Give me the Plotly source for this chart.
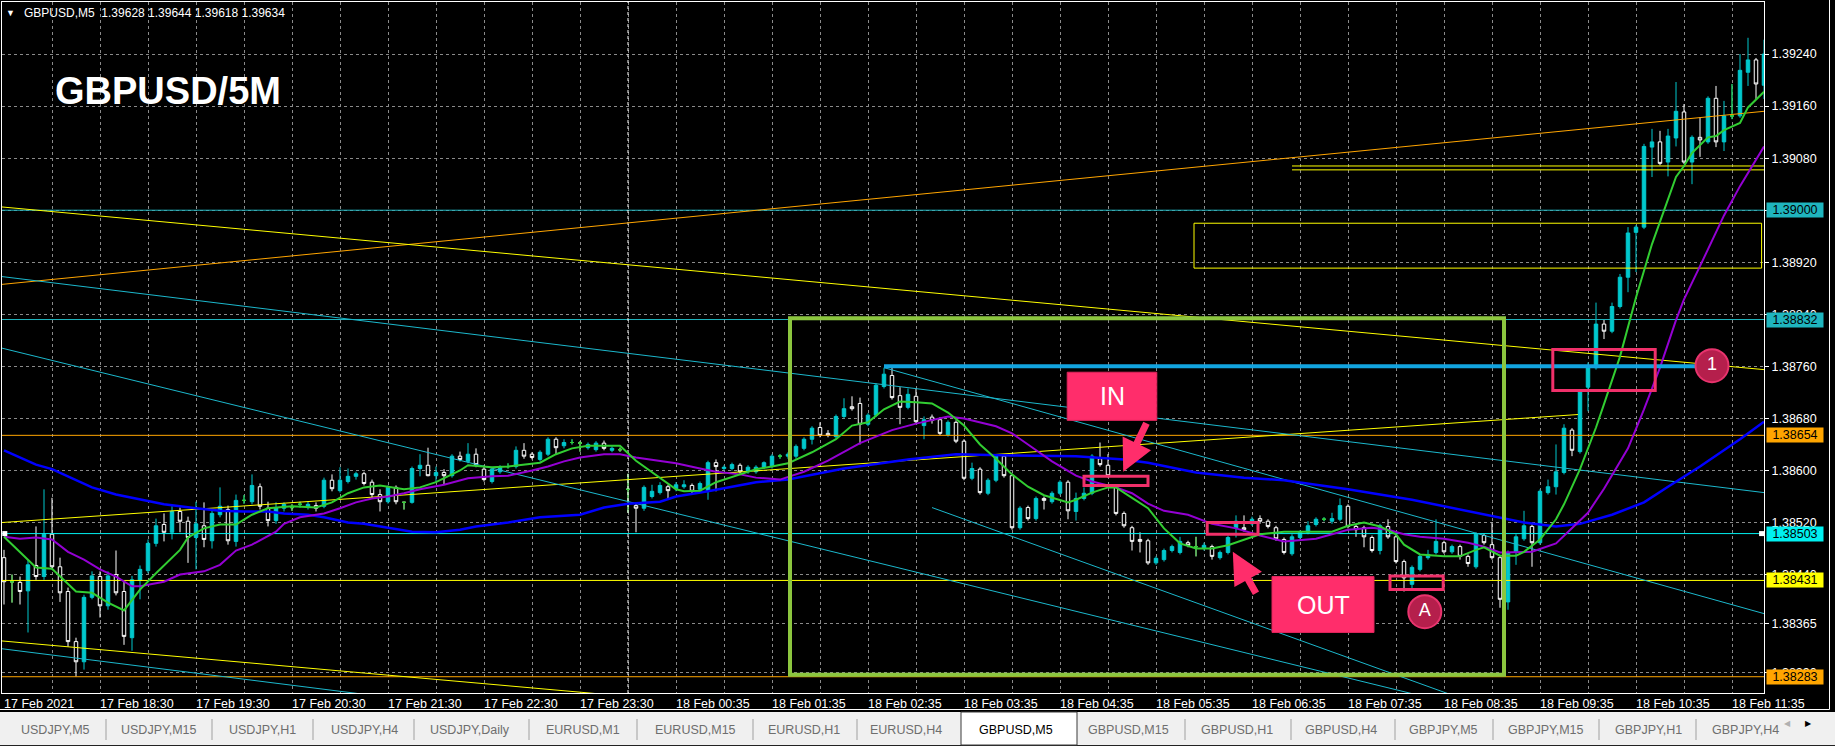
import plotly.graph_objects as go

# ---------------- data ----------------
bar_index = list(range(221))

opens = [
    1.38466,1.38429,1.38428,1.38415,1.38454,1.38437,1.38502,1.38452,1.38414,1.38337,
    1.38306,1.38405,1.38437,1.38392,1.38440,1.38414,1.38343,1.38431,1.38446,1.38488,
    1.38517,1.38505,1.38537,1.38522,1.38497,1.38515,1.38492,1.38532,1.38540,1.38491,
    1.38554,1.38552,1.38575,1.38542,1.38523,1.38542,1.38543,1.38548,1.38543,1.38546,
    1.38545,1.38585,1.38569,1.38583,1.38591,1.38595,1.38582,1.38563,1.38552,1.38574,
    1.38551,1.38551,1.38603,1.38608,1.38592,1.38597,1.38592,1.38622,1.38614,1.38625,
    1.38602,1.38583,1.38598,1.38606,1.38606,1.38631,1.38625,1.38617,1.38625,1.38648,
    1.38638,1.38643,1.38642,1.38635,1.38632,1.38642,1.38631,1.38632,1.38571,1.38546,
    1.38542,1.38560,1.38566,1.38575,1.38572,1.38575,1.38577,1.38571,1.38568,1.38612,
    1.38603,1.38603,1.38608,1.38598,1.38598,1.38605,1.38606,1.38622,1.38622,1.38622,
    1.38634,1.38648,1.38666,1.38657,1.38652,1.38683,1.38698,1.38703,1.38671,1.38685,
    1.38729,1.38746,1.38715,1.38697,1.38714,1.38669,1.38682,1.38678,1.38655,1.38674,
    1.38645,1.38588,1.38602,1.38565,1.38585,1.38622,1.38592,1.38512,1.38543,1.38526,
    1.38557,1.38552,1.38565,1.38582,1.38537,1.38557,1.38565,1.38618,1.38608,1.38575,
    1.38534,1.38512,1.38494,1.38492,1.38458,1.38463,1.38477,1.38474,1.38489,1.38483,
    1.38480,1.38483,1.38466,1.38474,1.38511,1.38512,1.38518,1.38526,1.38522,1.38512,
    1.38494,1.38472,1.38497,1.38505,1.38517,1.38525,1.38522,1.38525,1.38545,1.38514,
    1.38512,1.38497,1.38477,1.38514,1.38498,1.38460,1.38425,1.38448,1.38466,1.38474,
    1.38489,1.38475,1.38483,1.38468,1.38452,1.38500,1.38486,1.38466,1.38398,1.38475,
    1.38495,1.38514,1.38489,1.38566,1.38575,1.38597,1.38662,1.38629,1.38728,1.38758,
    1.38825,1.38814,1.38852,1.38897,1.38966,1.38974,1.39097,1.39105,1.39074,1.39111,
    1.39151,1.39074,1.39112,1.39105,1.39172,1.39105,1.39145,1.39145,1.39212,1.39231,
    1.39192]
highs = [
    1.38478,1.38440,1.38437,1.38463,1.38514,1.38571,1.38558,1.38466,1.38420,1.38343,
    1.38409,1.38445,1.38445,1.38445,1.38477,1.38429,1.38438,1.38454,1.38494,1.38526,
    1.38534,1.38545,1.38543,1.38529,1.38552,1.38551,1.38540,1.38574,1.38546,1.38563,
    1.38562,1.38594,1.38580,1.38552,1.38551,1.38551,1.38548,1.38552,1.38552,1.38551,
    1.38589,1.38594,1.38605,1.38603,1.38598,1.38598,1.38586,1.38571,1.38577,1.38577,
    1.38552,1.38606,1.38625,1.38635,1.38606,1.38602,1.38625,1.38629,1.38642,1.38634,
    1.38608,1.38605,1.38608,1.38611,1.38637,1.38642,1.38628,1.38631,1.38651,1.38651,
    1.38648,1.38648,1.38645,1.38643,1.38645,1.38646,1.38637,1.38635,1.38595,1.38549,
    1.38577,1.38578,1.38582,1.38578,1.38582,1.38585,1.38580,1.38583,1.38615,1.38617,
    1.38608,1.38612,1.38611,1.38608,1.38608,1.38614,1.38625,1.38625,1.38628,1.38640,
    1.38651,1.38668,1.38674,1.38662,1.38686,1.38711,1.38714,1.38712,1.38688,1.38734,
    1.38758,1.38758,1.38728,1.38726,1.38726,1.38683,1.38686,1.38682,1.38677,1.38677,
    1.38648,1.38612,1.38605,1.38588,1.38625,1.38625,1.38595,1.38545,1.38546,1.38560,
    1.38560,1.38568,1.38585,1.38585,1.38566,1.38574,1.38625,1.38643,1.38625,1.38578,
    1.38537,1.38515,1.38505,1.38495,1.38468,1.38480,1.38486,1.38498,1.38492,1.38498,
    1.38489,1.38486,1.38477,1.38500,1.38531,1.38531,1.38529,1.38531,1.38525,1.38515,
    1.38497,1.38502,1.38508,1.38522,1.38528,1.38528,1.38535,1.38557,1.38548,1.38517,
    1.38515,1.38500,1.38518,1.38525,1.38502,1.38463,1.38454,1.38471,1.38478,1.38525,
    1.38492,1.38486,1.38486,1.38471,1.38505,1.38503,1.38520,1.38469,1.38477,1.38502,
    1.38538,1.38517,1.38571,1.38586,1.38640,1.38671,1.38665,1.38725,1.38766,1.38858,
    1.38832,1.38858,1.38902,1.38974,1.38977,1.39102,1.39125,1.39122,1.39125,1.39197,
    1.39163,1.39115,1.39143,1.39175,1.39191,1.39168,1.39194,1.39240,1.39265,1.39234,
    1.39262]
lows = [
    1.38394,1.38397,1.38394,1.38351,1.38432,1.38432,1.38448,1.38398,1.38329,1.38283,
    1.38294,1.38402,1.38374,1.38386,1.38408,1.38332,1.38323,1.38402,1.38442,1.38483,
    1.38491,1.38494,1.38505,1.38458,1.38448,1.38482,1.38480,1.38528,1.38486,1.38483,
    1.38549,1.38548,1.38540,1.38514,1.38518,1.38537,1.38538,1.38543,1.38540,1.38537,
    1.38542,1.38568,1.38566,1.38580,1.38586,1.38577,1.38558,1.38537,1.38549,1.38548,
    1.38540,1.38549,1.38591,1.38591,1.38582,1.38578,1.38589,1.38614,1.38611,1.38605,
    1.38583,1.38580,1.38595,1.38603,1.38603,1.38618,1.38617,1.38614,1.38622,1.38625,
    1.38634,1.38640,1.38629,1.38632,1.38629,1.38631,1.38628,1.38629,1.38535,1.38505,
    1.38538,1.38557,1.38563,1.38555,1.38568,1.38572,1.38565,1.38568,1.38555,1.38568,
    1.38600,1.38600,1.38595,1.38595,1.38595,1.38602,1.38603,1.38618,1.38618,1.38618,
    1.38631,1.38640,1.38651,1.38651,1.38649,1.38680,1.38692,1.38640,1.38668,1.38682,
    1.38726,1.38709,1.38671,1.38694,1.38672,1.38648,1.38672,1.38654,1.38652,1.38642,
    1.38585,1.38585,1.38563,1.38562,1.38582,1.38589,1.38509,1.38509,1.38523,1.38523,
    1.38540,1.38549,1.38562,1.38525,1.38523,1.38554,1.38562,1.38606,1.38589,1.38531,
    1.38512,1.38477,1.38474,1.38455,1.38455,1.38460,1.38474,1.38471,1.38482,1.38468,
    1.38477,1.38463,1.38463,1.38471,1.38497,1.38506,1.38515,1.38518,1.38511,1.38492,
    1.38471,1.38469,1.38494,1.38502,1.38514,1.38522,1.38518,1.38522,1.38511,1.38498,
    1.38482,1.38474,1.38471,1.38495,1.38457,1.38414,1.38418,1.38445,1.38463,1.38471,
    1.38472,1.38472,1.38463,1.38452,1.38449,1.38486,1.38463,1.38389,1.38386,1.38455,
    1.38492,1.38452,1.38486,1.38563,1.38563,1.38594,1.38622,1.38626,1.38691,1.38755,
    1.38802,1.38811,1.38849,1.38874,1.38905,1.38971,1.39051,1.39069,1.39052,1.39098,
    1.39071,1.39040,1.39082,1.39102,1.39097,1.39091,1.39140,1.39142,1.39191,1.39171,
    1.39171]
closes = [
    1.38429,1.38429,1.38414,1.38455,1.38437,1.38502,1.38452,1.38412,1.38337,1.38306,
    1.38405,1.38438,1.38392,1.38438,1.38412,1.38345,1.38432,1.38448,1.38488,1.38515,
    1.38505,1.38537,1.38522,1.38497,1.38518,1.38494,1.38534,1.38545,1.38492,1.38554,
    1.38554,1.38577,1.38545,1.38523,1.38543,1.38548,1.38543,1.38548,1.38548,1.38542,
    1.38585,1.38572,1.38585,1.38591,1.38595,1.38580,1.38563,1.38552,1.38574,1.38552,
    1.38551,1.38603,1.38608,1.38592,1.38597,1.38592,1.38622,1.38617,1.38625,1.38609,
    1.38586,1.38602,1.38605,1.38606,1.38631,1.38622,1.38620,1.38628,1.38648,1.38635,
    1.38643,1.38643,1.38642,1.38640,1.38642,1.38634,1.38634,1.38632,1.38571,1.38542,
    1.38574,1.38568,1.38577,1.38569,1.38578,1.38578,1.38568,1.38580,1.38612,1.38606,
    1.38605,1.38609,1.38598,1.38605,1.38605,1.38612,1.38622,1.38622,1.38625,1.38637,
    1.38648,1.38665,1.38654,1.38654,1.38683,1.38695,1.38695,1.38671,1.38685,1.38731,
    1.38748,1.38712,1.38697,1.38717,1.38675,1.38678,1.38677,1.38657,1.38674,1.38645,
    1.38588,1.38603,1.38566,1.38585,1.38622,1.38592,1.38512,1.38542,1.38526,1.38557,
    1.38554,1.38565,1.38582,1.38538,1.38557,1.38565,1.38622,1.38609,1.38592,1.38534,
    1.38515,1.38491,1.38491,1.38458,1.38465,1.38477,1.38483,1.38491,1.38485,1.38483,
    1.38485,1.38468,1.38474,1.38497,1.38522,1.38509,1.38525,1.38522,1.38514,1.38495,
    1.38474,1.38498,1.38505,1.38515,1.38525,1.38525,1.38526,1.38546,1.38514,1.38509,
    1.38498,1.38477,1.38515,1.38498,1.38460,1.38435,1.38451,1.38468,1.38471,1.38491,
    1.38475,1.38483,1.38468,1.38457,1.38502,1.38489,1.38466,1.38402,1.38474,1.38498,
    1.38515,1.38489,1.38568,1.38575,1.38598,1.38665,1.38631,1.38722,1.38758,1.38825,
    1.38814,1.38852,1.38897,1.38965,1.38974,1.39098,1.39105,1.39072,1.39114,1.39152,
    1.39074,1.39112,1.39108,1.39172,1.39105,1.39145,1.39145,1.39215,1.39231,1.39194,
    1.39240]

ma_fast_x = [0,4,6,8,9,11,13,15,17,19,22,23,25,27,29,31,33,36,39,41,43,45,47,50,52,54,57,58,61,63,
             65,67,69,71,73,77,79,82,84,85,87,89,92,94,96,98,101,104,106,108,110,112,114,116,118,
             120,122,124,126,128,130,133,134,136,138,139,141,143,145,147,149,151,153,155,157,160,
             166,168,170,172,174,175,177,180,182,184,185,187,189,190,192,194,195,197,199,200,202,
             204,206,209,210,211,213,214,215,217,218,220]
ma_fast = [1.38498,1.38451,1.38449,1.38425,1.38414,1.38412,1.38397,1.38385,1.38417,1.38442,
           1.38478,1.38497,1.38511,1.38517,1.38517,1.38532,1.38542,1.38545,1.38543,1.38551,
           1.38565,1.38574,1.38577,1.38571,1.38574,1.38582,1.38600,1.38608,1.38605,1.38606,
           1.38609,1.38612,1.38625,1.38634,1.38638,1.38638,1.38615,1.38588,1.38571,1.38568,
           1.38569,1.38582,1.38594,1.38602,1.38606,1.38611,1.38628,1.38648,1.38669,1.38674,
           1.38694,1.38706,1.38705,1.38703,1.38689,1.38669,1.38640,1.38618,1.38594,1.38575,
           1.38562,1.38551,1.38555,1.38566,1.38574,1.38574,1.38558,1.38542,1.38511,1.38488,
           1.38480,1.38480,1.38485,1.38494,1.38502,1.38506,1.38506,1.38515,1.38520,1.38514,
           1.38502,1.38486,1.38471,1.38468,1.38468,1.38478,1.38482,1.38469,1.38469,1.38475,
           1.38494,1.38525,1.38548,1.38602,1.38666,1.38702,1.38775,1.38866,1.38948,1.39051,
           1.39068,1.39088,1.39112,1.39114,1.39123,1.39134,1.39158,1.39182]

ma_mid_x = [0,2,4,6,8,10,12,14,16,17,20,22,25,27,29,31,34,35,37,40,42,44,46,48,50,52,55,58,61,63,
            66,68,70,72,75,77,79,82,84,87,89,92,94,97,100,103,107,111,114,118,120,124,126,128,131,
            134,136,139,141,143,145,148,151,154,157,160,164,168,171,173,175,177,180,183,185,187,
            189,191,194,196,198,200,203,205,207,209,210,212,215,217,219,220]
ma_mid = [1.38498,1.38495,1.38497,1.38494,1.38475,1.38463,1.38448,1.38437,1.38422,1.38422,
          1.38429,1.38440,1.38445,1.38455,1.38477,1.38486,1.38506,1.38518,1.38528,1.38534,
          1.38542,1.38551,1.38557,1.38560,1.38565,1.38571,1.38578,1.38588,1.38591,1.38592,
          1.38600,1.38606,1.38614,1.38620,1.38625,1.38625,1.38620,1.38614,1.38611,1.38603,
          1.38598,1.38594,1.38589,1.38586,1.38598,1.38615,1.38642,1.38662,1.38672,1.38683,
          1.38680,1.38668,1.38657,1.38640,1.38614,1.38592,1.38583,1.38574,1.38565,1.38549,
          1.38538,1.38532,1.38518,1.38511,1.38500,1.38491,1.38495,1.38509,1.38512,1.38509,
          1.38502,1.38498,1.38495,1.38489,1.38483,1.38474,1.38474,1.38475,1.38488,1.38512,
          1.38535,1.38572,1.38634,1.38694,1.38758,1.38831,1.38863,1.38914,1.38992,1.39037,
          1.39078,1.39098]

ma_slow_x = [0,4,6,9,11,14,17,20,24,27,30,33,35,38,40,43,45,48,51,54,57,59,63,67,72,75,78,82,84,88,
             91,94,98,105,113,119,126,134,140,143,149,155,160,168,176,182,187,190,194,197,201,205,
             208,212,217,220]
ma_slow = [1.38631,1.38609,1.38602,1.38585,1.38574,1.38563,1.38555,1.38548,1.38542,1.38538,
           1.38537,1.38537,1.38534,1.38532,1.38528,1.38520,1.38518,1.38512,1.38506,1.38505,
           1.38509,1.38514,1.38520,1.38528,1.38532,1.38543,1.38549,1.38552,1.38560,1.38568,
           1.38575,1.38582,1.38586,1.38603,1.38617,1.38625,1.38623,1.38622,1.38617,1.38612,
           1.38597,1.38589,1.38585,1.38571,1.38555,1.38540,1.38528,1.38520,1.38514,1.38518,
           1.38532,1.38551,1.38575,1.38606,1.38648,1.38675]

time_tick_bars = [0, 12, 24, 36, 48, 60, 72, 84, 96, 108, 120, 132, 144, 156, 168, 180, 192, 204, 216]
time_tick_text = ["17 Feb 2021", "17 Feb 18:30", "17 Feb 19:30", "17 Feb 20:30", "17 Feb 21:30",
                  "17 Feb 22:30", "17 Feb 23:30", "18 Feb 00:35", "18 Feb 01:35", "18 Feb 02:35",
                  "18 Feb 03:35", "18 Feb 04:35", "18 Feb 05:35", "18 Feb 06:35", "18 Feb 07:35",
                  "18 Feb 08:35", "18 Feb 09:35", "18 Feb 10:35", "18 Feb 11:35"]
grid_bars = list(range(6, 221, 6))
separator_bar = [78]

price_ticks = [1.39240, 1.39160, 1.39080, 1.39000, 1.38920, 1.38840, 1.38760,
               1.38680, 1.38600, 1.38520, 1.38440, 1.38365, 1.38290]
price_tick_text = ["%.5f" % p for p in price_ticks]

level_prices = [1.39000, 1.38832, 1.38654, 1.38503, 1.38431, 1.38283]
level_colors = ["#1fb5be", "#1fb5be", "#ffa500", "#00f0f0", "#ffff00", "#ffa500"]

# trend lines: [x0, x1], [y0, y1]
orange_trend_x, orange_trend_y = [-0.25, 220], [1.38886, 1.39152]
yellow_trend_top_x, yellow_trend_top_y = [-0.25, 220], [1.39005, 1.38755]
yellow_trend_rise_x, yellow_trend_rise_y = [-0.25, 196.75], [1.38520, 1.38686]
yellow_trend_low_x, yellow_trend_low_y = [-0.25, 75], [1.38338, 1.38256]
cyan_trend_a_x, cyan_trend_a_y = [-0.25, 220], [1.38898, 1.38566]
cyan_trend_b_x, cyan_trend_b_y = [-0.25, 176], [1.38788, 1.38257]
cyan_trend_c_x, cyan_trend_c_y = [110, 220], [1.38758, 1.38380]
cyan_trend_d_x, cyan_trend_d_y = [116, 180.5], [1.38543, 1.38257]
cyan_trend_low_x, cyan_trend_low_y = [-0.25, 45], [1.38326, 1.38256]
blue_level_x, blue_level_y = [110, 213.5], [1.38760, 1.38760]
yellow_pair_x = [161, 220]
yellow_pair_prices = [1.39068, 1.39062]
yellow_zone_x = [148.75, 219.7]
yellow_zone_y = [1.38911, 1.38980]
green_box_x = [98.25, 187.5]
green_box_y = [1.38286, 1.38834]

in_box_x, in_box_y = [132.9, 144.1], [1.38677, 1.38751]
out_box_x, out_box_y = [158.5, 171.25], [1.38351, 1.38437]
mark_rects_x = [[135, 143], [150.4, 156.75], [173.25, 179.9], [193.6, 206.4]]
mark_rects_y = [[1.38577, 1.38591], [1.38502, 1.38520], [1.38417, 1.38438], [1.38723, 1.38786]]
circle_x = [177.6, 213.5]
circle_y = [1.38383, 1.38761]
circle_text = ["A", "1"]
in_arrow_head = (139.9, 1.38598)
out_arrow_head = (153.6, 1.38475)

tab_labels = ["USDJPY,M5", "USDJPY,M15", "USDJPY,H1", "USDJPY,H4", "USDJPY,Daily", "EURUSD,M1",
              "EURUSD,M15", "EURUSD,H1", "EURUSD,H4", "GBPUSD,M5", "GBPUSD,M15", "GBPUSD,H1",
              "GBPUSD,H4", "GBPJPY,M5", "GBPJPY,M15", "GBPJPY,H1", "GBPJPY,H4"]
tab_centers = [55, 159, 262, 364, 470, 583, 695, 804, 906, 1016, 1128, 1237, 1341, 1443, 1546, 1648, 1745]
tab_separators = [106, 212, 313, 414, 529, 637, 753, 857, 1185, 1291, 1395, 1493, 1599, 1696]
selected_tab = 9

# ---------------- styling ----------------
W, H = 1835, 746
ML, MR, MT, MB = 2, 71, 2, 53
PX0, PX1, PY0, PY1 = ML, W - MR, MT, H - MB
FONT = "Liberation Sans, Arial, sans-serif"
TEAL = "#00c8cd"
CYAN_TL = "#1cb8cc"
PINK = "#ff2d6b"
GRID = "#8a8a8a"


def pxx(X):
    return (X - PX0) / (PX1 - PX0)


def pxy(Y):
    return (PY1 - Y) / (PY1 - PY0)


fig = go.Figure()

XR = [-0.25, 220]

# horizontal levels
for p, c in zip(level_prices, level_colors):
    fig.add_trace(go.Scatter(x=XR, y=[p, p], mode="lines", line=dict(color=c, width=1),
                             hoverinfo="skip", showlegend=False))

# separator
fig.add_trace(go.Scatter(x=separator_bar * 2, y=[1.38258, 1.39320], mode="lines",
                         line=dict(color="white", width=1, dash="3px,3px"), hoverinfo="skip"))

# trend lines
for xs, ys, c in [
    (orange_trend_x, orange_trend_y, "#ffa500"),
    (yellow_trend_top_x, yellow_trend_top_y, "#ffff00"),
    (yellow_trend_rise_x, yellow_trend_rise_y, "#ffff00"),
    (yellow_trend_low_x, yellow_trend_low_y, "#ffff00"),
    (cyan_trend_a_x, cyan_trend_a_y, CYAN_TL),
    (cyan_trend_b_x, cyan_trend_b_y, CYAN_TL),
    (cyan_trend_c_x, cyan_trend_c_y, CYAN_TL),
    (cyan_trend_d_x, cyan_trend_d_y, CYAN_TL),
    (cyan_trend_low_x, cyan_trend_low_y, CYAN_TL),
]:
    fig.add_trace(go.Scatter(x=xs, y=ys, mode="lines", line=dict(color=c, width=1), hoverinfo="skip"))

for p in yellow_pair_prices:
    fig.add_trace(go.Scatter(x=yellow_pair_x, y=[p, p], mode="lines",
                             line=dict(color="#ffff00", width=1), hoverinfo="skip"))

# yellow zone rectangle
fig.add_trace(go.Scatter(x=[yellow_zone_x[0], yellow_zone_x[1], yellow_zone_x[1], yellow_zone_x[0], yellow_zone_x[0]],
                         y=[yellow_zone_y[0], yellow_zone_y[0], yellow_zone_y[1], yellow_zone_y[1], yellow_zone_y[0]],
                         mode="lines", line=dict(color="#ffff00", width=1), hoverinfo="skip"))

# moving averages
fig.add_trace(go.Scatter(x=ma_slow_x, y=ma_slow, mode="lines", line=dict(color="#0000ff", width=2.5), hoverinfo="skip"))
fig.add_trace(go.Scatter(x=ma_mid_x, y=ma_mid, mode="lines", line=dict(color="#9400d3", width=2), hoverinfo="skip"))

# candles
fig.add_trace(go.Candlestick(
    x=bar_index, open=opens, high=highs, low=lows, close=closes,
    increasing=dict(line=dict(color=TEAL, width=1), fillcolor=TEAL),
    decreasing=dict(line=dict(color="white", width=1), fillcolor="black"),
    whiskerwidth=0, hoverinfo="skip", showlegend=False))
doji = [i for i in bar_index if opens[i] == closes[i]]
fig.add_trace(go.Candlestick(
    x=doji, open=[opens[i] for i in doji], high=[highs[i] for i in doji],
    low=[lows[i] for i in doji], close=[closes[i] for i in doji],
    increasing=dict(line=dict(color="#32cd32", width=1), fillcolor="#32cd32"),
    decreasing=dict(line=dict(color="#32cd32", width=1), fillcolor="#32cd32"),
    whiskerwidth=0, hoverinfo="skip", showlegend=False))

fig.add_trace(go.Scatter(x=ma_fast_x, y=ma_fast, mode="lines", line=dict(color="#32cd32", width=2), hoverinfo="skip"))

# blue level line
fig.add_trace(go.Scatter(x=blue_level_x, y=blue_level_y, mode="lines",
                         line=dict(color="#12a4e0", width=4), hoverinfo="skip"))

# small selection squares on the cyan level
fig.add_trace(go.Scatter(x=[0.1, 219.7], y=[level_prices[3]] * 2, mode="markers",
                         marker=dict(symbol="square", size=5, color="white"), hoverinfo="skip"))

# circles
fig.add_trace(go.Scatter(x=circle_x, y=circle_y, mode="markers+text", text=circle_text,
                         textposition="middle center",
                         textfont=dict(color="white", size=18, family=FONT),
                         marker=dict(size=33, color="#b51f4c", line=dict(color="#e8336d", width=2)),
                         hoverinfo="skip"))

shapes = []
# green box
shapes.append(dict(type="rect", xref="x", yref="y", x0=green_box_x[0], x1=green_box_x[1],
                   y0=green_box_y[0], y1=green_box_y[1], line=dict(color="#8cc63f", width=4)))
# pink label boxes
for bx, by in [(in_box_x, in_box_y), (out_box_x, out_box_y)]:
    shapes.append(dict(type="rect", xref="x", yref="y", x0=bx[0], x1=bx[1], y0=by[0], y1=by[1],
                       fillcolor=PINK, line=dict(color="#e0245c", width=1)))
# pink outline marks
for rx, ry in zip(mark_rects_x, mark_rects_y):
    shapes.append(dict(type="rect", xref="x", yref="y", x0=rx[0], x1=rx[1], y0=ry[0], y1=ry[1],
                       line=dict(color="#f0306a", width=3)))

# window chrome: bottom white line, right border, tab bar
shapes.append(dict(type="line", xref="paper", yref="paper", x0=pxx(0), x1=pxx(1829.5),
                   y0=pxy(709.5), y1=pxy(709.5), line=dict(color="white", width=1)))
shapes.append(dict(type="line", xref="paper", yref="paper", x0=pxx(1829.5), x1=pxx(1829.5),
                   y0=pxy(0), y1=pxy(709.5), line=dict(color="white", width=1)))
shapes.append(dict(type="rect", xref="paper", yref="paper", x0=pxx(0), x1=pxx(1835),
                   y0=pxy(746), y1=pxy(712), fillcolor="#f0f0f0", line=dict(width=0)))
shapes.append(dict(type="line", xref="paper", yref="paper", x0=pxx(0), x1=pxx(1835),
                   y0=pxy(745.5), y1=pxy(745.5), line=dict(color="#222222", width=1)))
for sx in tab_separators:
    shapes.append(dict(type="line", xref="paper", yref="paper", x0=pxx(sx), x1=pxx(sx),
                       y0=pxy(740), y1=pxy(719), line=dict(color="#a0a0a0", width=1)))
shapes.append(dict(type="rect", xref="paper", yref="paper", x0=pxx(961), x1=pxx(1077),
                   y0=pxy(745), y1=pxy(712), fillcolor="white", line=dict(color="#3a3a3a", width=1)))

annotations = []
# time labels
for b, t in zip(time_tick_bars, time_tick_text):
    annotations.append(dict(x=b - 0.25, y=pxy(703.5), xref="x", yref="paper", text=t, showarrow=False,
                            xanchor="left", yanchor="middle",
                            font=dict(color="white", size=12.5, family=FONT)))
# price level labels
for p, c in zip(level_prices, level_colors):
    annotations.append(dict(x=pxx(1766), y=p, xref="paper", yref="y", text="%.5f" % p, showarrow=False,
                            xanchor="left", yanchor="middle", bgcolor=c, width=56, height=14,
                            borderpad=0, align="center",
                            font=dict(color="black", size=12.5, family=FONT)))
# header
annotations.append(dict(x=pxx(10), y=pxy(13), xref="paper", yref="paper", text="▼", showarrow=False,
                        xanchor="center", yanchor="middle", font=dict(color="white", size=9, family=FONT)))
annotations.append(dict(x=pxx(22), y=pxy(13), xref="paper", yref="paper",
                        text="GBPUSD,M5\u00a0 1.39628 1.39644 1.39618 1.39634", showarrow=False,
                        xanchor="left", yanchor="middle", font=dict(color="white", size=12, family=FONT)))
annotations.append(dict(x=pxx(53), y=pxy(91), xref="paper", yref="paper", text="<b>GBPUSD/5M</b>",
                        showarrow=False, xanchor="left", yanchor="middle",
                        font=dict(color="white", size=38, family="Liberation Sans, Arial, sans-serif")))
# IN / OUT text
annotations.append(dict(x=sum(in_box_x) / 2, y=sum(in_box_y) / 2, xref="x", yref="y", text="IN",
                        showarrow=False, font=dict(color="white", size=25, family=FONT)))
annotations.append(dict(x=sum(out_box_x) / 2, y=sum(out_box_y) / 2, xref="x", yref="y", text="OUT",
                        showarrow=False, font=dict(color="white", size=25, family=FONT)))
# arrows
annotations.append(dict(x=in_arrow_head[0], y=in_arrow_head[1], xref="x", yref="y", text="",
                        showarrow=True, ax=24, ay=-50, arrowcolor=PINK, arrowwidth=7,
                        arrowhead=2, arrowsize=0.9))
annotations.append(dict(x=out_arrow_head[0], y=out_arrow_head[1], xref="x", yref="y", text="",
                        showarrow=True, ax=24, ay=43, arrowcolor=PINK, arrowwidth=7,
                        arrowhead=2, arrowsize=0.9))
# tabs
for k, (lab, cx) in enumerate(zip(tab_labels, tab_centers)):
    annotations.append(dict(x=pxx(cx), y=pxy(730), xref="paper", yref="paper", text=lab, showarrow=False,
                            xanchor="center", yanchor="middle",
                            font=dict(color="#000000" if k == selected_tab else "#6e6e6e",
                                      size=12.5, family=FONT)))
annotations.append(dict(x=pxx(1793), y=pxy(730), xref="paper", yref="paper", text="◀", showarrow=False,
                        font=dict(color="#b0b0b0", size=8, family=FONT)))
annotations.append(dict(x=pxx(1814), y=pxy(730), xref="paper", yref="paper", text="▶", showarrow=False,
                        font=dict(color="#000000", size=8, family=FONT)))

fig.update_layout(
    width=W, height=H, margin=dict(l=ML, r=MR, t=MT, b=MB),
    paper_bgcolor="black", plot_bgcolor="black", showlegend=False,
    boxgap=0.38, shapes=shapes, annotations=annotations,
    xaxis=dict(range=XR, tickvals=grid_bars, showticklabels=False, ticks="",
               showgrid=True, gridcolor=GRID, gridwidth=1, griddash="3px,3px",
               showline=True, linecolor="white", linewidth=1, mirror=True, zeroline=False,
               rangeslider=dict(visible=False), fixedrange=True),
    yaxis=dict(range=[1.38258, 1.39320], side="right", tickvals=price_ticks, ticktext=price_tick_text,
               ticks="outside", ticklen=4, tickcolor="white", tickwidth=1,
               tickfont=dict(color="white", size=12.5, family=FONT),
               showgrid=True, gridcolor=GRID, gridwidth=1, griddash="3px,3px",
               showline=True, linecolor="white", linewidth=1, mirror=True, zeroline=False,
               fixedrange=True),
)

fig.write_html("out.html", config={"displayModeBar": False},
               post_script="document.body.style.margin='0';document.body.style.padding='0';"
                           "document.body.style.background='black';")
